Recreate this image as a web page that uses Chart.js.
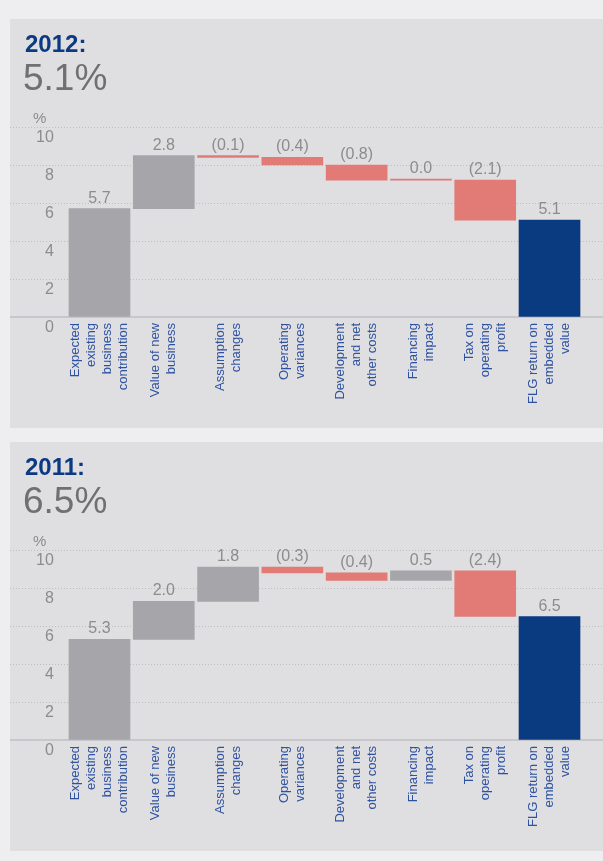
<!DOCTYPE html>
<html>
<head>
<meta charset="utf-8">
<script src="https://cdn.jsdelivr.net/npm/chart.js@4.4.1/dist/chart.umd.min.js"></script>
<style>
html, body { margin: 0; padding: 0; background: #eeeef0; overflow: hidden; }
body { width: 603px; height: 861px; position: relative; font-family: "Liberation Sans", Arial, sans-serif; }
.panel { position: absolute; left: 10px; width: 593px; height: 409px; background: #dfdfe1; }
.panel canvas { position: absolute; left: 0; top: 0; }
.year { position: absolute; left: 15px; top: 13px; font-size: 24px; line-height: 24px; font-weight: bold; color: #0b3a84; }
.headline { position: absolute; left: 13px; top: 40px; font-size: 37px; line-height: 37px; color: #707070; }
.unit { position: absolute; left: 23px; top: 91px; font-size: 15px; line-height: 15px; color: #8c8c8c; }
</style>
</head>
<body>
<div class="panel" style="top:19px">
  <canvas id="chart2012" width="593" height="409"></canvas>
  <div class="year">2012:</div>
  <div class="headline" id="head2012"></div>
  <div class="unit">%</div>
</div>
<div class="panel" style="top:442px">
  <canvas id="chart2011" width="593" height="409"></canvas>
  <div class="year">2011:</div>
  <div class="headline" id="head2011"></div>
  <div class="unit">%</div>
</div>
<script>
const categories = [
    ['Expected', 'existing', 'business', 'contribution'],
    ['Value of new', 'business'],
    ['Assumption', 'changes'],
    ['Operating', 'variances'],
    ['Development', 'and net', 'other costs'],
    ['Financing', 'impact'],
    ['Tax on', 'operating', 'profit'],
    ['FLG return on', 'embedded', 'value']
];
const steps2012 = [5.7, 2.8, -0.1, -0.4, -0.8, 0.0, -2.1];
const total2012 = 5.1;
const steps2011 = [5.3, 2.0, 1.8, -0.3, -0.4, 0.5, -2.4];
const total2011 = 6.5;
const yTicks = [0, 2, 4, 6, 8, 10];

const GREY = '#a6a5a9', RED = '#e27a76', NAVY = '#0a3a80';
const FONT = '"Liberation Sans", Arial, sans-serif';
Chart.defaults.font.family = FONT;

// running total -> floating bar ranges, last bar is the total from zero
function waterfall(steps, total) {
    let run = 0;
    const ranges = steps.map((v, i) => {
        const from = run;
        run = Math.round((run + v) * 10) / 10;
        return { x: i, y: [from, run] };
    });
    ranges.push({ x: steps.length, y: [0, total] });
    return ranges;
}

const valueLabels = {
    id: 'valueLabels',
    afterDatasetsDraw(chart) {
        const ctx = chart.ctx;
        const values = chart.data.datasets[0].values;
        ctx.save();
        ctx.font = '16px ' + FONT;
        ctx.fillStyle = '#8c8c8c';
        ctx.textAlign = 'center';
        ctx.textBaseline = 'alphabetic';
        chart.getDatasetMeta(0).data.forEach((bar, i) => {
            const v = values[i];
            const txt = v < 0 ? '(' + Math.abs(v).toFixed(1) + ')' : v.toFixed(1);
            ctx.fillText(txt, bar.x, Math.min(bar.y, bar.base) - 6);
        });
        ctx.restore();
    }
};

// vertical, multi-line category names centred under each bar
const categoryLabels = {
    id: 'categoryLabels',
    afterDraw(chart) {
        const { ctx, chartArea } = chart;
        const xScale = chart.scales.x;
        const lh = 16;
        ctx.save();
        ctx.font = '13px ' + FONT;
        ctx.fillStyle = '#2f52a0';
        ctx.textAlign = 'right';
        ctx.textBaseline = 'middle';
        chart.data.labels.forEach((lines, i) => {
            const cx = xScale.getPixelForValue(i);
            lines.forEach((line, j) => {
                ctx.save();
                ctx.translate(cx + (j - (lines.length - 1) / 2) * lh, chartArea.bottom + 6);
                ctx.rotate(-Math.PI / 2);
                ctx.fillText(line, 0, 0);
                ctx.restore();
            });
        });
        ctx.restore();
    }
};

function drawPanel(id, steps, total) {
    const colors = steps.map(v => v > 0 ? GREY : RED).concat(NAVY);
    new Chart(document.getElementById(id), {
        type: 'bar',
        data: {
            labels: categories,
            datasets: [{
                data: waterfall(steps, total),
                values: steps.concat(total),
                backgroundColor: colors,
                borderWidth: 0,
                barThickness: 61,
                minBarLength: 1
            }]
        },
        options: {
            responsive: false,
            animation: false,
            layout: { padding: { top: 108, bottom: 103, left: 0, right: 0 } },
            plugins: { legend: { display: false }, tooltip: { enabled: false } },
            scales: {
                x: {
                    type: 'linear',
                    min: -1.392,
                    max: 7.832,
                    offset: false,
                    grid: { display: false },
                    ticks: { display: false },
                    border: { display: true, color: '#c8c8cc', width: 2 }
                },
                y: {
                    min: 0,
                    max: 10,
                    afterBuildTicks: s => { s.ticks = yTicks.map(v => ({ value: v })); },
                    afterFit: s => { s.width = 0; },
                    grid: {
                        color: c => c.tick && c.tick.value === 0 ? 'rgba(0,0,0,0)' : '#bdbdc1',
                        lineWidth: 1,
                        drawTicks: false
                    },
                    border: { display: false, dash: [1, 2] },
                    ticks: {
                        mirror: true,
                        crossAlign: 'far',
                        padding: 26,
                        labelOffset: 10.5,
                        color: '#8c8c8c',
                        font: { size: 16 }
                    }
                }
            }
        },
        plugins: [valueLabels, categoryLabels]
    });
}

document.getElementById('head2012').textContent = total2012.toFixed(1) + '%';
document.getElementById('head2011').textContent = total2011.toFixed(1) + '%';
drawPanel('chart2012', steps2012, total2012);
drawPanel('chart2011', steps2011, total2011);
</script>
</body>
</html>
